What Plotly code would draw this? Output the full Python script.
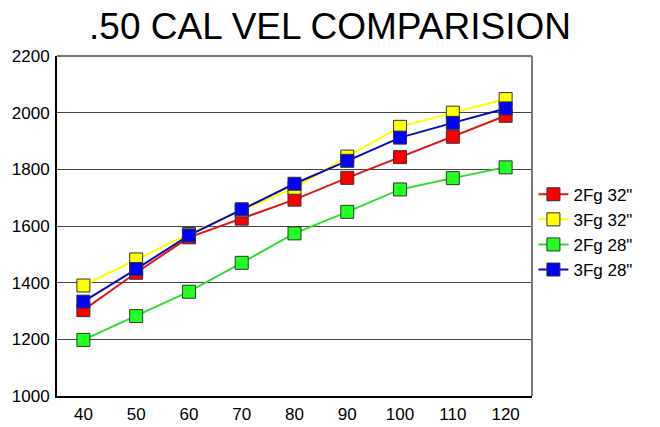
import plotly.graph_objects as go

grain = [40, 50, 60, 70, 80, 90, 100, 110, 120]
fg2_32 = [1303, 1435, 1560, 1626, 1693, 1770, 1843, 1915, 1989]
fg3_32 = [1390, 1482, 1572, 1655, 1735, 1845, 1950, 2000, 2048]
fg2_28 = [1198, 1282, 1368, 1470, 1574, 1650, 1729, 1769, 1807]
fg3_28 = [1333, 1448, 1567, 1659, 1749, 1830, 1912, 1964, 2015]

series = [
    ('2Fg 32"', fg2_32, "#ff0000", "#e01818"),
    ('3Fg 32"', fg3_32, "#ffff00", "#ffff00"),
    ('2Fg 28"', fg2_28, "#22ff22", "#33dd33"),
    ('3Fg 28"', fg3_28, "#0000ff", "#0a0ab8"),
]

fig = go.Figure()
for name, vals, mcol, lcol in series:
    fig.add_trace(go.Scatter(
        x=grain, y=vals, name=name, mode="lines+markers",
        line=dict(color=lcol, width=2),
        marker=dict(symbol="square", size=13, color=mcol,
                    line=dict(color="#333333", width=1)),
    ))

fig.update_layout(
    width=660, height=427,
    margin=dict(l=57, r=128, t=56, b=31, autoexpand=False),
    paper_bgcolor="white", plot_bgcolor="white",
    font=dict(family="Liberation Sans", size=17, color="black"),
    title=dict(text=".50 CAL VEL COMPARISION", x=0.5, xanchor="center",
               y=0.94, yanchor="middle", yref="container", automargin=False,
               font=dict(size=37, color="black")),
    showlegend=True,
    legend=dict(x=1.003, xanchor="left", y=0.645, yanchor="top",
                font=dict(size=17), tracegroupgap=0, itemwidth=30,
                bgcolor="rgba(0,0,0,0)"),
    xaxis=dict(range=[35, 125], tickvals=grain, showgrid=False, automargin=False,
               showline=True, linecolor="black", linewidth=2,
               ticks="", zeroline=False, ticklabelstandoff=2),
    yaxis=dict(range=[1000, 2200], dtick=200, showgrid=True, automargin=False,
               gridcolor="#444444", gridwidth=1,
               showline=True, linecolor="black", linewidth=2,
               ticks="", zeroline=False, ticklabelstandoff=2),
)
fig.add_shape(type="line", xref="x domain", yref="y domain",
              x0=1, x1=1, y0=0, y1=1, line=dict(color="#777777", width=2))
fig.add_shape(type="line", xref="x domain", yref="y domain",
              x0=0, x1=1, y0=1, y1=1, line=dict(color="#777777", width=2))

fig.write_html("out.html", config={"displayModeBar": False},
               post_script="document.body.style.margin='0';document.body.style.overflow='hidden';")
